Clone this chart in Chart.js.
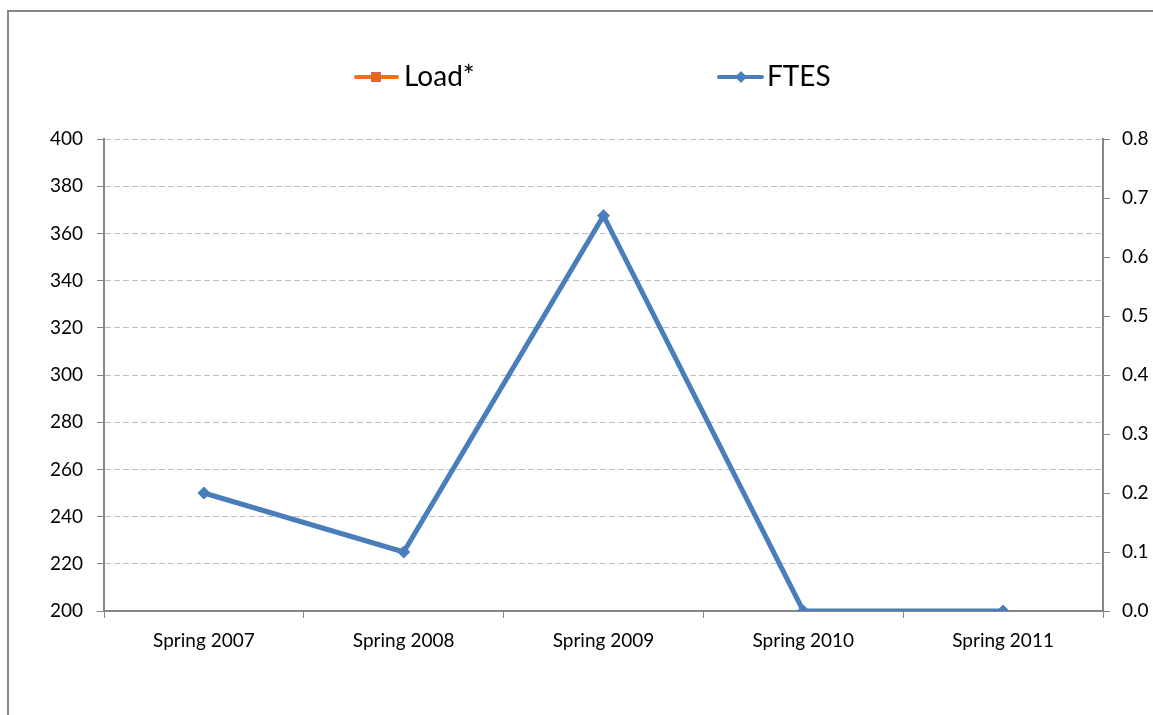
<!DOCTYPE html>
<html>
<head>
<meta charset="utf-8">
<script src="https://cdn.jsdelivr.net/npm/chart.js@4/dist/chart.umd.min.js"></script>
<style>
  html, body { margin: 0; padding: 0; background: #fff; }
  #wrap { position: absolute; left: 0; top: 0; width: 1153px; height: 715px; }
</style>
</head>
<body>
<div id="wrap"><canvas id="chart1"></canvas></div>
<script>
var categories = ['Spring 2007', 'Spring 2008', 'Spring 2009', 'Spring 2010', 'Spring 2011'];
var loadValues = [null, null, null, null, null];
var ftesValues = [0.2, 0.1, 0.67, 0, 0];

var AXIS = '#868686';
var FONT = 'Lato, "Open Sans", sans-serif';

// outer frame + legend drawn like the Excel one
var framePlugin = {
    id: 'frame',
    beforeDraw: function (chart) {
        var c = chart.ctx;
        c.save();
        c.strokeStyle = AXIS;
        c.lineWidth = 2;
        c.beginPath();
        c.moveTo(8, 2000);
        c.lineTo(8, 11);
        c.lineTo(2000, 11);
        c.stroke();
        c.restore();
    },
    afterDraw: function (chart) {
        var c = chart.ctx;
        var y = 77;
        c.save();
        c.lineWidth = 4;
        c.lineCap = 'round';
        // Load*
        c.strokeStyle = '#E8711A';
        c.beginPath(); c.moveTo(356, y); c.lineTo(397, y); c.stroke();
        c.fillStyle = '#E46C0A';
        c.fillRect(371, y - 5, 10, 10);
        c.lineWidth = 1;
        c.strokeStyle = '#D06A6A';
        c.strokeRect(371.5, y - 4.5, 9, 9);
        // FTES
        c.lineWidth = 4;
        c.strokeStyle = '#4A7EBB';
        c.beginPath(); c.moveTo(719, y); c.lineTo(762, y); c.stroke();
        c.fillStyle = '#4A7EBB';
        c.beginPath();
        c.moveTo(741, y - 6); c.lineTo(747, y); c.lineTo(741, y + 6); c.lineTo(735, y);
        c.closePath(); c.fill();
        c.fillStyle = '#000';
        c.font = '28px ' + FONT;
        c.textBaseline = 'middle';
        c.fillText('Load*', 404, y);
        c.fillText('FTES', 767, y);
        c.restore();
    }
};

var ctx1 = document.getElementById('chart1').getContext('2d');
var chart1 = new Chart(ctx1, {
    type: 'line',
    data: {
        labels: categories,
        datasets: [{
            label: 'Load*',
            data: loadValues,
            yAxisID: 'y',
            borderColor: '#E8711A',
            backgroundColor: '#E46C0A',
            borderWidth: 4,
            pointStyle: 'rect',
            pointRadius: 5
        }, {
            label: 'FTES',
            data: ftesValues,
            yAxisID: 'y1',
            borderColor: '#4A7EBB',
            backgroundColor: '#4A7EBB',
            pointBackgroundColor: '#4A7EBB',
            pointBorderColor: '#4A7EBB',
            borderWidth: 5,
            pointStyle: 'rectRot',
            pointRadius: 6,
            pointBorderWidth: 1,
            tension: 0
        }]
    },
    options: {
        responsive: true,
        maintainAspectRatio: false,
        animation: false,
        layout: { padding: { top: 139, left: 0, right: 0, bottom: 0 } },
        plugins: {
            legend: { display: false },
            tooltip: { enabled: false }
        },
        scales: {
            x: {
                offset: true,
                afterFit: function (s) { s.height = 104; },
                grid: {
                    offset: true,
                    drawOnChartArea: false,
                    drawTicks: true,
                    tickLength: 7,
                    tickColor: AXIS,
                    tickWidth: 1
                },
                border: { display: true, color: AXIS, width: 2 },
                ticks: {
                    color: '#000',
                    padding: 11,
                    maxRotation: 0,
                    font: { family: FONT, size: 19 }
                }
            },
            y: {
                position: 'left',
                min: 200,
                max: 400,
                afterFit: function (s) { s.width = 104; },
                grid: {
                    color: '#BEBEBE',
                    lineWidth: 1,
                    tickLength: 7,
                    tickColor: AXIS,
                    tickWidth: 1,
                    tickBorderDash: []
                },
                border: { display: true, color: AXIS, width: 2, dash: [6, 3] },
                ticks: {
                    stepSize: 20,
                    color: '#000',
                    padding: 14,
                    font: { family: FONT, size: 19 }
                }
            },
            y1: {
                position: 'right',
                min: 0,
                max: 0.8,
                afterFit: function (s) { s.width = 50; },
                grid: {
                    drawOnChartArea: false,
                    tickLength: 7,
                    tickColor: AXIS,
                    tickWidth: 1
                },
                border: { display: true, color: AXIS, width: 2 },
                ticks: {
                    stepSize: 0.1,
                    color: '#000',
                    padding: 12,
                    font: { family: FONT, size: 19 },
                    callback: function (v) { return v.toFixed(1); }
                }
            }
        }
    },
    plugins: [framePlugin]
});
</script>
</body>
</html>
